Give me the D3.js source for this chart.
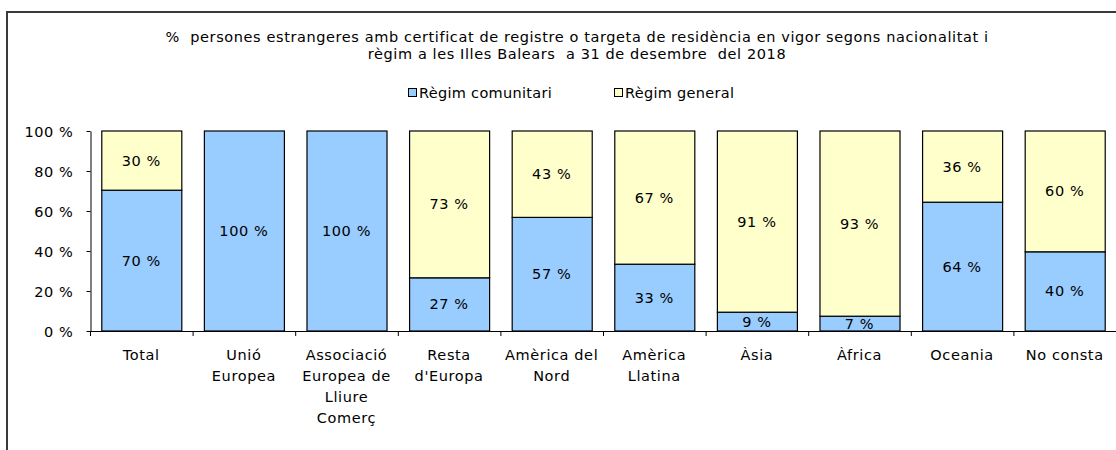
<!DOCTYPE html>
<html>
<head>
<meta charset="utf-8">
<script src="https://cdn.jsdelivr.net/npm/d3@7"></script>
<style>
  body { margin: 0; background: #fff; }
  svg text { font-family: "DejaVu Sans", Verdana, sans-serif; fill: #000; font-size: 14.5px; letter-spacing: 0.6px; }
</style>
</head>
<body>
<div id="chart"></div>
<script>
// categories (line breaks as they appear under the axis)
const categories = ["Total", "Unió\nEuropea", "Associació\nEuropea de\nLliure\nComerç", "Resta\nd'Europa",
  "Amèrica del\nNord", "Amèrica\nLlatina", "Àsia", "Àfrica", "Oceania", "No consta"];
const comunitari = [70.4, 100, 100, 26.6, 56.8, 33.4, 9.4, 7.4, 64.4, 39.6];
const general    = [29.6, 0, 0, 73.4, 43.2, 66.6, 90.6, 92.6, 35.6, 60.4];
const seriesNames = ["Règim comunitari", "Règim general"];
const yTicks = [0, 20, 40, 60, 80, 100];
const titleLines = ["%  persones estrangeres amb certificat de registre o targeta de residència en vigor segons nacionalitat i",
  "règim a les Illes Balears  a 31 de desembre  del 2018"];

var colors = ["#99ccff", "#ffffcc"];
var W = 1116, H = 450;
var plotLeft = 90, plotTop = 131, plotBottom = 331;

var svg = d3.select("#chart").append("svg")
  .attr("width", W).attr("height", H);

// outer frame (runs off the right and bottom edges)
svg.append("rect")
  .attr("x", 7).attr("y", 12)
  .attr("width", 1300).attr("height", 600)
  .attr("fill", "none").attr("stroke", "#3a3a3a").attr("stroke-width", 2);

// title
svg.append("g").selectAll("text")
  .data(titleLines).enter().append("text")
  .attr("x", 577).attr("y", (d, i) => 42 + i * 17)
  .attr("text-anchor", "middle")
  .style("white-space", "pre")
  .text(d => d);

// legend
var legX = [408, 614];
var leg = svg.append("g").selectAll("g")
  .data(seriesNames).enter().append("g")
  .attr("transform", (d, i) => `translate(${legX[i]},88)`);
leg.append("rect").attr("x", 0.5).attr("y", 0.5).attr("width", 8).attr("height", 8)
  .attr("fill", (d, i) => colors[i]).attr("stroke", "#000");
leg.append("text").attr("x", 11).attr("y", 9.5)
  .style("letter-spacing", "0.3px").text(d => d);

var x = d3.scaleBand().domain(d3.range(categories.length))
  .range([plotLeft, W]).paddingInner(0.22).paddingOuter(0.11);
var y = d3.scaleLinear().domain([0, 100]).range([plotBottom, plotTop]);

var stacked = d3.stack().keys([0, 1])(categories.map((c, i) => ({0: comunitari[i], 1: general[i]})));

var g = svg.append("g");
stacked.forEach(function(layer, k) {
  g.append("g").selectAll("rect").data(layer).enter().filter(d => d[1] - d[0] > 0).append("rect")
    .attr("x", d => x(layer.indexOf(d)) + 0.5)
    .attr("y", d => y(d[1]))
    .attr("width", x.bandwidth())
    .attr("height", d => y(d[0]) - y(d[1]))
    .attr("fill", colors[k])
    .attr("stroke", "#000").attr("stroke-width", 1.2);
});
stacked.forEach(function(layer, k) {
  g.append("g").selectAll("text").data(layer).enter().filter(d => d[1] - d[0] > 0).append("text")
    .attr("x", d => x(layer.indexOf(d)) + x.bandwidth() / 2)
    .attr("y", d => y((d[0] + d[1]) / 2) + 5)
    .attr("text-anchor", "middle")
    .text(d => Math.round(d[1] - d[0]) + " %");
});

// y axis
var yaxis = svg.append("g").attr("transform", `translate(${plotLeft + 0.5},0)`)
  .call(d3.axisLeft(y).tickValues(yTicks).tickSize(4).tickSizeOuter(0).tickPadding(13).tickFormat(d => d + " %"));
yaxis.attr("font-size", null).attr("font-family", null);
yaxis.selectAll("text").attr("dy", "0.35em");
yaxis.select(".domain").attr("stroke", "#000");

// x axis: ticks on band boundaries
var step = x.step();
var bounds = d3.range(categories.length + 1).map(i => plotLeft + i * step);
var xaxis = svg.append("g");
xaxis.append("line").attr("x1", plotLeft).attr("x2", W).attr("y1", plotBottom + 0.5).attr("y2", plotBottom + 0.5).attr("stroke", "#000");
xaxis.selectAll(".tk").data(bounds).enter().append("line")
  .attr("x1", d => d + 0.5).attr("x2", d => d + 0.5).attr("y1", plotBottom).attr("y2", plotBottom + 5).attr("stroke", "#000");
var lab = xaxis.selectAll(".lab").data(categories).enter().append("text")
  .attr("text-anchor", "middle");
lab.each(function(d, i) {
  var cx = plotLeft + (i + 0.5) * step;
  d3.select(this).selectAll("tspan").data(d.split("\n")).enter().append("tspan")
    .attr("x", cx).attr("y", (t, j) => 360 + j * 21).text(t => t);
});
</script>
</body>
</html>
